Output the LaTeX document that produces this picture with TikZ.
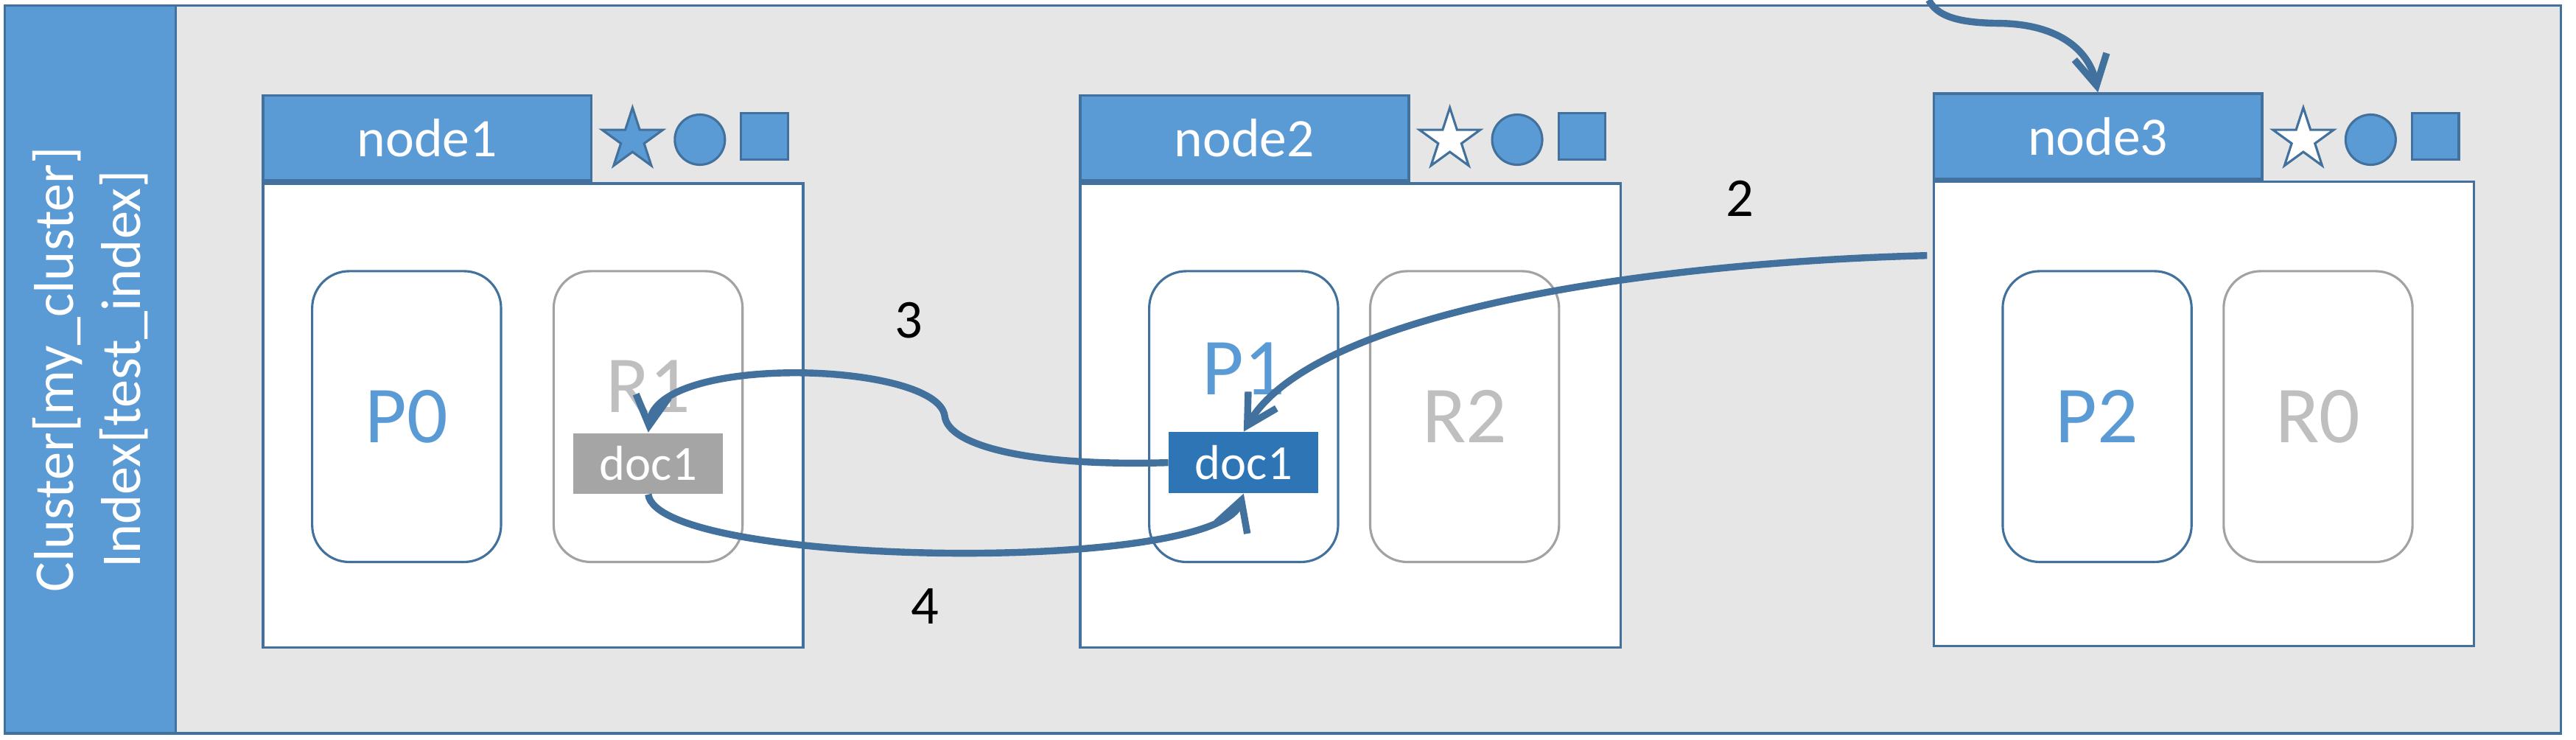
\documentclass[tikz,border=0pt]{standalone}
\usepackage{fontspec}
\setmainfont{Carlito}
\usetikzlibrary{shapes.geometric,arrows.meta,positioning}
\definecolor{hblue}{HTML}{5B9BD5}
\definecolor{eblue}{HTML}{41719C}
\definecolor{dblue}{HTML}{2E75B6}
\definecolor{bggray}{HTML}{E7E6E6}
\definecolor{rgray}{HTML}{BFBFBF}
\definecolor{dgray}{HTML}{A5A5A5}
\tikzset{
  hdr/.style={draw=eblue, fill=hblue, line width=0.9pt, minimum width=4cm,
    minimum height=1.04cm, inner sep=0pt, text=white, font=\fontsize{18.8}{22}\selectfont},
  nodebox/.style={draw=eblue, fill=white, line width=0.9pt, minimum width=6.58cm,
    minimum height=5.65cm, inner sep=0pt, anchor=north west},
  shard/.style={rounded corners=0.45cm, fill=white, line width=0.8pt, minimum width=2.3cm,
    minimum height=3.54cm, inner sep=0pt, font=\fontsize{28}{32}\selectfont},
  pshard/.style={shard, draw=eblue, text=hblue},
  rshard/.style={shard, draw=rgray!85!black, text=rgray},
  ptext/.style={text=hblue, inner sep=0pt, font=\fontsize{28}{32}\selectfont},
  rtext/.style={text=rgray, inner sep=0pt, font=\fontsize{28}{32}\selectfont},
  docbox/.style={minimum width=1.82cm, minimum height=0.74cm, inner sep=0pt,
    text=white, font=\fontsize{17}{20}\selectfont},
  staricon/.style={star, star points=5, star point ratio=2.618, minimum size=0.78cm,
    inner sep=0pt, draw=eblue, line width=0.8pt},
  roundicon/.style={circle, minimum size=0.61cm, inner sep=0pt, draw=eblue, fill=hblue, line width=0.8pt},
  squareicon/.style={rectangle, minimum size=0.57cm, inner sep=0pt, draw=eblue, fill=hblue, line width=0.8pt},
  flow/.style={draw=eblue, line width=2.4pt, -{Straight Barb[length=0.36cm, width=0.4cm]}},
  numlabel/.style={font=\fontsize{19}{22}\selectfont}
}
\begin{document}
\begin{tikzpicture}[x=0.02cm, y=0.02cm]
\useasboundingbox (0,0) rectangle (1568,450);
\node[draw=eblue, fill=bggray, line width=0.9pt, minimum width=31.12cm, minimum height=8.86cm,
  inner sep=0pt] (frame) at (781,225.2) {};
\node[draw=eblue, fill=hblue, line width=0.9pt, minimum width=8.86cm, minimum height=2.08cm,
  inner sep=0pt, rotate=90, align=center, text=white, font=\fontsize{19.5}{23}\selectfont]
  (band) at (55,225.2) {Cluster[my\_cluster]\\Index[test\_index]};

\node[hdr] (h1) at (260,366) {node1};
\node[hdr] (h2) at (757.5,366) {node2};
\node[hdr] (h3) at (1277,367) {node3};
\node[nodebox] (n1) at (h1.south west) {};
\node[nodebox] (n2) at (h2.south west) {};
\node[nodebox] (n3) at (h3.south west) {};

\node[staricon, fill=hblue] (s1) at (385,365) {};
\node[roundicon] (c1) at (426,365) {};
\node[squareicon] (q1) at (465.4,367) {};
\node[staricon, fill=white] (s2) at (882.5,365) {};
\node[roundicon] (c2) at (923.5,365) {};
\node[squareicon] (q2) at (963,367) {};
\node[staricon, fill=white] (s3) at (1402,365) {};
\node[roundicon] (c3) at (1443,365) {};
\node[squareicon] (q3) at (1482.4,367) {};

\node[pshard] (p0) at (247.5,196.5) {P0};
\node[rshard] (r1) at (394.5,196.5) {};
\node[rtext] (r1name) at ([yshift=0.37cm]r1.center) {R1};
\node[pshard] (p1) at (757,196.5) {};
\node[ptext] (p1name) at ([yshift=0.58cm]p1.center) {P1};
\node[rshard] (r2) at (891.5,196.5) {R2};
\node[pshard] (p2) at (1276.5,196.5) {P2};
\node[rshard] (r0) at (1411,196.5) {R0};

\node[docbox, fill=dgray] (d1) at (394.6,168) {doc1};
\node[docbox, fill=dblue] (d2) at (757,168.5) {doc1};

\coordinate (top) at (1174,450);
\coordinate (a2) at (1173,294.5);
\draw[flow] (top) .. controls (1180,438) and (1198,436) .. (1218,435.8)
  .. controls (1255,435) and (1272,418) .. (h3.north);
\draw[flow] (a2) .. controls (1000,290) and (800,260) .. (d2.north);
\draw[flow] (d2.west) .. controls (630,166) and (577,178) .. (575,197)
  .. controls (570,230) and (400,235) .. (d1.north);
\draw[flow] (d1.south) .. controls (400,105) and (740,100) .. (d2.south);

\node[numlabel] (l2) at (1059,329) {2};
\node[numlabel] (l3) at (553,255) {3};
\node[numlabel] (l4) at (563,81) {4};
\end{tikzpicture}
\end{document}
